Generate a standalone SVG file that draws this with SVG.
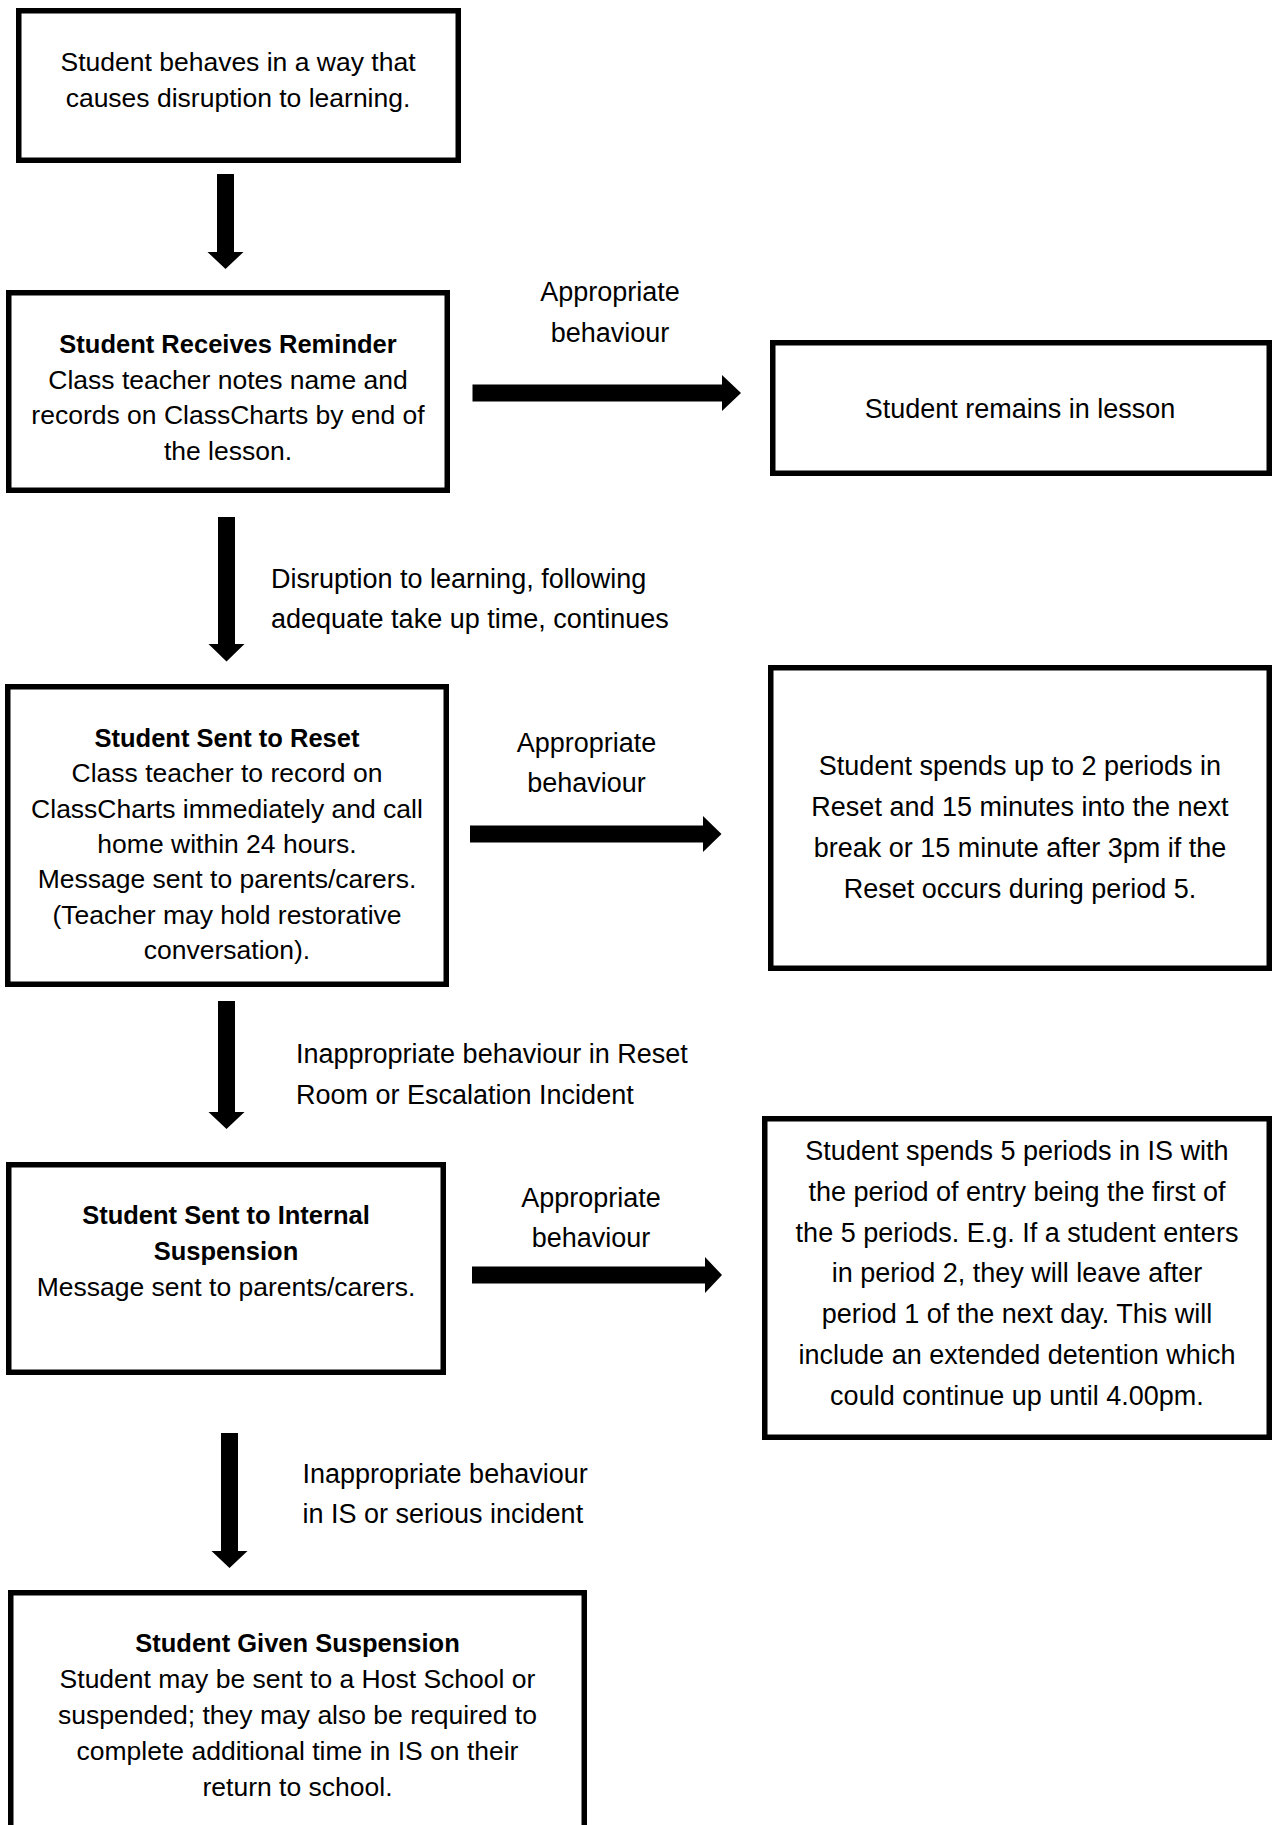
<svg xmlns="http://www.w3.org/2000/svg" width="1272" height="1825" viewBox="0 0 1272 1825">
<style>
.box{fill:#fff;stroke:#000;stroke-width:5.5}
.t{font-family:"Liberation Sans",Arial,sans-serif;font-size:26.5px;fill:#000;text-anchor:middle}
.b{font-weight:bold;font-size:25.5px}
.r{font-family:"Liberation Sans",Arial,sans-serif;font-size:27px;fill:#000;text-anchor:middle}
.l{font-family:"Liberation Sans",Arial,sans-serif;font-size:27px;fill:#000}
.arr{fill:#000}
</style>
<rect width="1272" height="1825" fill="#fff"/>
<g id="connectors">
<polygon class="arr" points="217,174 234,174 234,252 243.5,252 225.5,269 207.5,252 217,252"/>
<polygon class="arr" points="218,517 235,517 235,644 244.5,644 226.5,661.5 208.5,644 218,644"/>
<polygon class="arr" points="218,1001 235,1001 235,1112 244.5,1112 226.5,1129 208.5,1112 218,1112"/>
<polygon class="arr" points="221,1433 238,1433 238,1551 247.5,1551 229.5,1568 211.5,1551 221,1551"/>
<polygon class="arr" points="472.5,384.5 722,384.5 722,375 741,393 722,411 722,401.5 472.5,401.5"/>
<polygon class="arr" points="470,825.5 703,825.5 703,816 721.5,834 703,852 703,842.5 470,842.5"/>
<polygon class="arr" points="472,1266.5 705,1266.5 705,1257 722,1275 705,1293 705,1283.5 472,1283.5"/>
<text class="r" x="610" y="301">Appropriate</text>
<text class="r" x="610" y="342">behaviour</text>
<text class="r" x="586.5" y="751.5">Appropriate</text>
<text class="r" x="586.5" y="792">behaviour</text>
<text class="r" x="591" y="1206.5">Appropriate</text>
<text class="r" x="591" y="1247">behaviour</text>
<text class="l" x="271" y="587.5">Disruption to learning, following</text>
<text class="l" x="271" y="628">adequate take up time, continues</text>
<text class="l" x="296" y="1063">Inappropriate behaviour in Reset</text>
<text class="l" x="296" y="1103.5">Room or Escalation Incident</text>
<text class="l" x="302.5" y="1483">Inappropriate behaviour</text>
<text class="l" x="302.5" y="1523">in IS or serious incident</text>
</g>
<g id="node-start">
<rect class="box" x="18.75" y="10.75" width="439.5" height="149.5"/>
<text class="t" x="238" y="71">Student behaves in a way that</text>
<text class="t" x="238" y="107">causes disruption to learning.</text>
</g>
<g id="node-reminder">
<rect class="box" x="8.75" y="292.75" width="438.5" height="197.5"/>
<text class="t b" x="228" y="353">Student Receives Reminder</text>
<text class="t" x="228" y="388.5">Class teacher notes name and</text>
<text class="t" x="228" y="424">records on ClassCharts by end of</text>
<text class="t" x="228" y="459.5">the lesson.</text>
</g>
<g id="node-remains">
<rect class="box" x="772.75" y="342.75" width="496.5" height="130.5"/>
<text class="r" x="1020" y="418">Student remains in lesson</text>
</g>
<g id="node-reset">
<rect class="box" x="7.75" y="686.75" width="438.5" height="297.5"/>
<text class="t b" x="227" y="747">Student Sent to Reset</text>
<text class="t" x="227" y="782.3">Class teacher to record on</text>
<text class="t" x="227" y="817.6">ClassCharts immediately and call</text>
<text class="t" x="227" y="852.9">home within 24 hours.</text>
<text class="t" x="227" y="888.2">Message sent to parents/carers.</text>
<text class="t" x="227" y="923.5">(Teacher may hold restorative</text>
<text class="t" x="227" y="958.8">conversation).</text>
</g>
<g id="node-reset-time">
<rect class="box" x="770.75" y="667.75" width="498.5" height="300.5"/>
<text class="r" x="1020" y="775">Student spends up to 2 periods in</text>
<text class="r" x="1020" y="816">Reset and 15 minutes into the next</text>
<text class="r" x="1020" y="857">break or 15 minute after 3pm if the</text>
<text class="r" x="1020" y="898">Reset occurs during period 5.</text>
</g>
<g id="node-internal">
<rect class="box" x="8.75" y="1164.75" width="434.5" height="207.5"/>
<text class="t b" x="226" y="1224">Student Sent to Internal</text>
<text class="t b" x="226" y="1260">Suspension</text>
<text class="t" x="226" y="1295.5">Message sent to parents/carers.</text>
</g>
<g id="node-is-time">
<rect class="box" x="764.75" y="1118.75" width="504.5" height="318.5"/>
<text class="r" x="1017" y="1160">Student spends 5 periods in IS with</text>
<text class="r" x="1017" y="1200.8">the period of entry being the first of</text>
<text class="r" x="1017" y="1241.6">the 5 periods. E.g. If a student enters</text>
<text class="r" x="1017" y="1282.4">in period 2, they will leave after</text>
<text class="r" x="1017" y="1323.2">period 1 of the next day. This will</text>
<text class="r" x="1017" y="1364">include an extended detention which</text>
<text class="r" x="1017" y="1404.8">could continue up until 4.00pm.</text>
</g>
<g id="node-suspension">
<rect class="box" x="10.75" y="1592.75" width="573.5" height="300"/>
<text class="t b" x="297.5" y="1652">Student Given Suspension</text>
<text class="t" x="297.5" y="1688">Student may be sent to a Host School or</text>
<text class="t" x="297.5" y="1724">suspended; they may also be required to</text>
<text class="t" x="297.5" y="1760">complete additional time in IS on their</text>
<text class="t" x="297.5" y="1796">return to school.</text>
</g>
</svg>
